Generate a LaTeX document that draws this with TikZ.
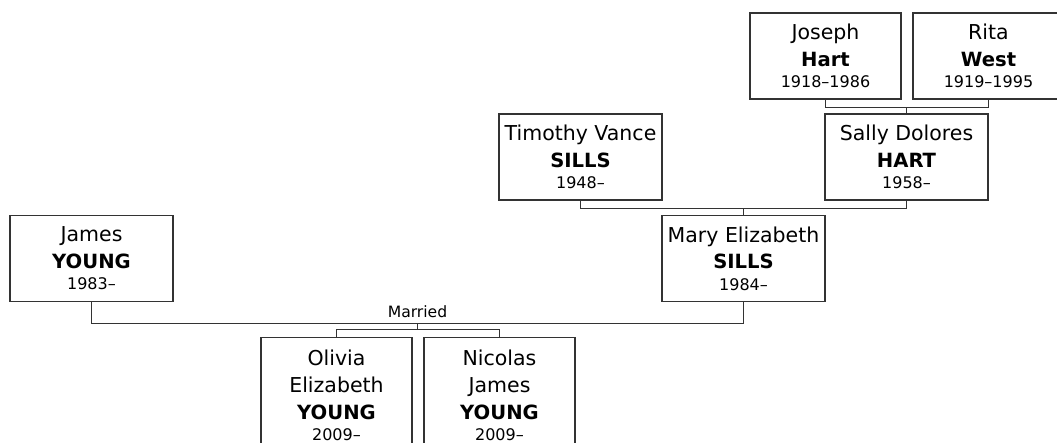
\documentclass[tikz,border=0pt]{standalone}
\usepackage{fontspec}
\setmainfont{DejaVu Sans}
\usepackage{tikz}
\definecolor{rulegray}{HTML}{333333}
\newcommand{\pname}[3]{#1\\[0pt]{\fontsize{19.6}{26.7}\selectfont\bfseries #2}\\[-5.4pt]{\fontsize{16}{19}\selectfont #3}}

\begin{document}
\begin{tikzpicture}[x=1pt, y=-1pt, line width=1.1pt,
                    person/.style={draw=rulegray, align=center, inner sep=0pt,
                                   minimum width=163pt, minimum height=86pt,
                                   font=\fontsize{20.5}{26.7}\selectfont},
                    slim/.style={person, minimum width=151pt},
                    child/.style={slim, minimum height=116pt}]
  \useasboundingbox (0,0) rectangle (1057,443);
  \node[slim] (joseph) at (825.5,56) {\pname{Joseph}{Hart}{1918--1986}};
  \node[slim] (rita) at (988.5,56) {\pname{Rita}{West}{1919--1995}};
  \node[person] (timothy) at (580.5,157) {\pname{Timothy Vance}{SILLS}{1948--}};
  \node[person] (sally) at (906.5,157) {\pname{Sally Dolores}{HART}{1958--}};
  \node[person] (james) at (91.5,258.5) {\pname{James}{YOUNG}{1983--}};
  \node[person] (mary) at (743.5,258.5) {\pname{Mary Elizabeth}{SILLS}{1984--}};
  \node[child] (olivia) at (336.5,395.5) {\pname{Olivia\\Elizabeth}{YOUNG}{2009--}};
  \node[child] (nicolas) at (499.5,395.5) {\pname{Nicolas\\James}{YOUNG}{2009--}};
  \node[anchor=base, font=\fontsize{15.6}{18}\selectfont] (married) at (417.5,318) {Married};
  \draw[rulegray] (joseph.south) -- ++(0,7.7) coordinate (hartbar) -| (rita.south);
  \draw[rulegray] (hartbar -| sally.north) -- (sally.north);
  \draw[rulegray] (timothy.south) -- ++(0,7.7) coordinate (sillsbar) -| (sally.south);
  \draw[rulegray] (sillsbar -| mary.north) -- (mary.north);
  \draw[rulegray] (james.south) -- ++(0,21.3) coordinate (wed) -| (mary.south);
  \draw[rulegray] (olivia.north) -- ++(0,-7.5) coordinate (kidbar) -| (nicolas.north);
  \draw[rulegray] (wed -| married) -- (kidbar -| married);
\end{tikzpicture}
\end{document}
